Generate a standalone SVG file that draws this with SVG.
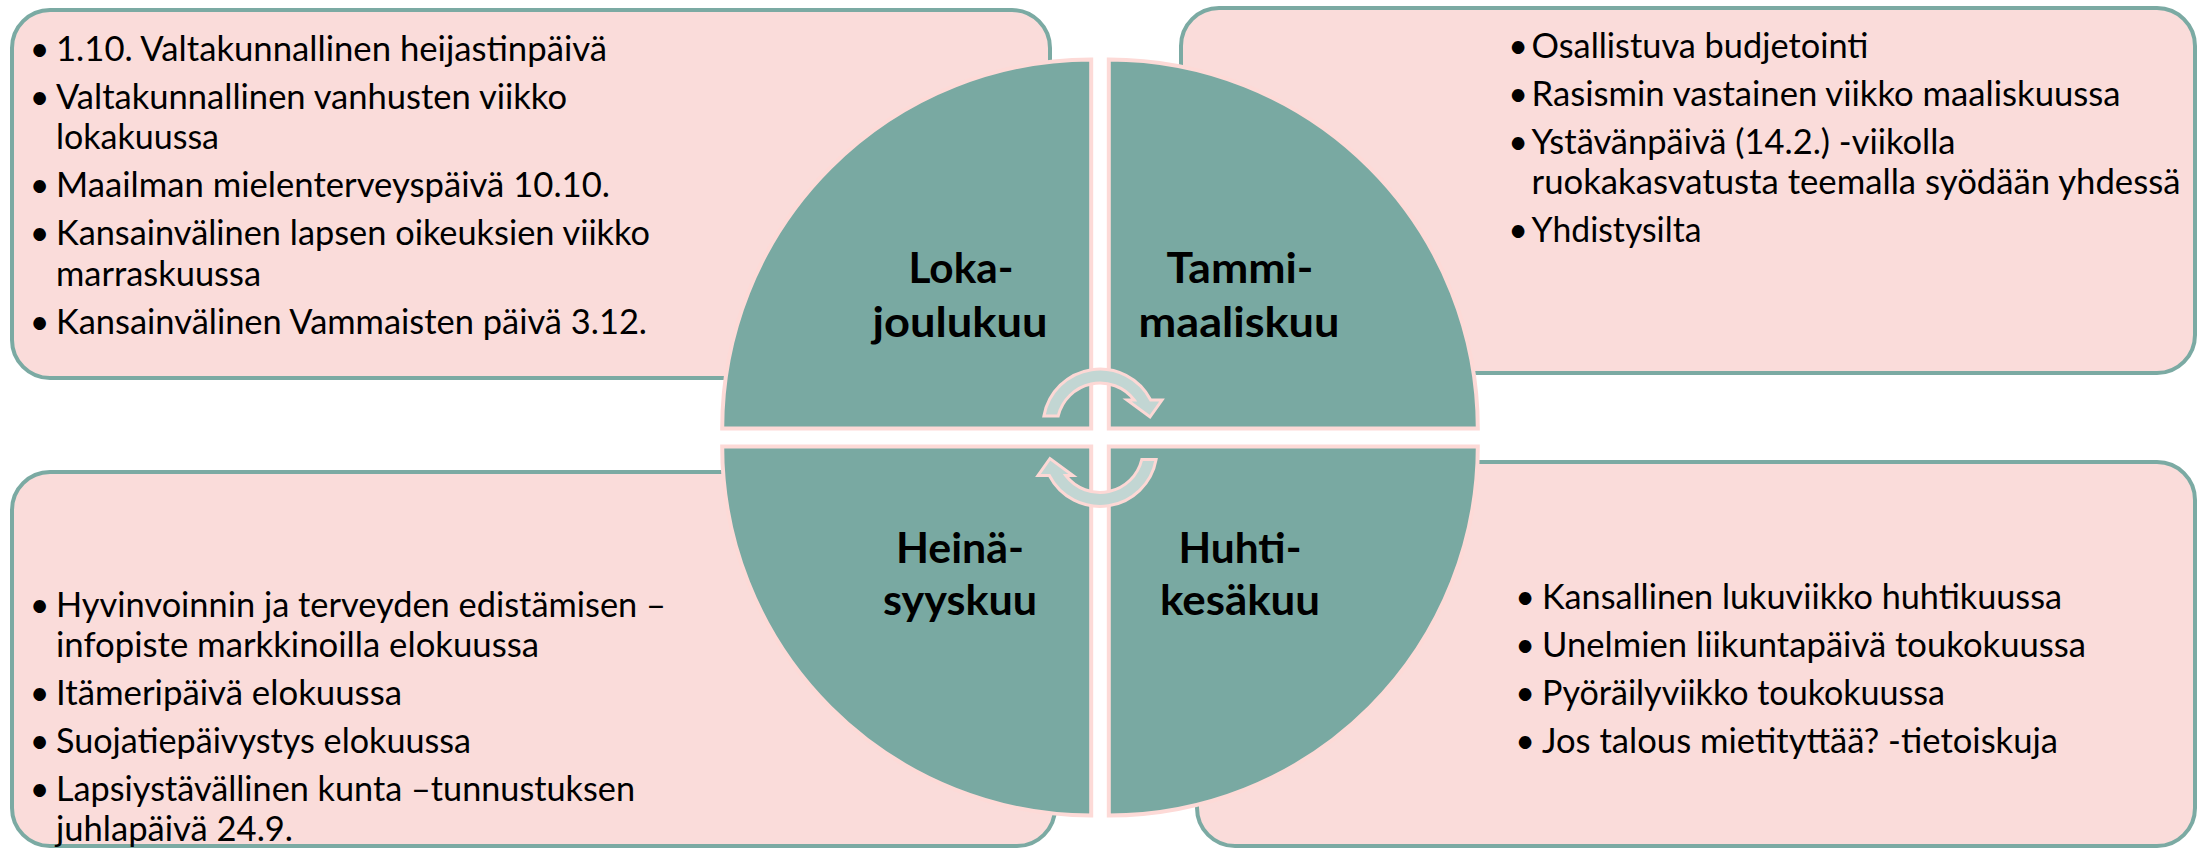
<svg xmlns="http://www.w3.org/2000/svg" width="2199" height="850" viewBox="0 0 2199 850">
<style>
.box{fill:#FADCDA;stroke:#7BAAA3;stroke-width:4}
.quad{fill:#79A9A2;stroke:#FDDAD7;stroke-width:4}
.arrow{fill:#C2D6D3;stroke:#FDD8D5;stroke-width:3;stroke-linejoin:miter}
.t{font-family:Lato,"Open Sans","Liberation Sans",sans-serif;font-size:34px;fill:#000}
.b{font-family:Lato,"Open Sans","Liberation Sans",sans-serif;font-size:34px;fill:#000;text-anchor:middle}
.lbl{font-family:Lato,"Open Sans","Liberation Sans",sans-serif;font-size:42px;font-weight:700;fill:#000;text-anchor:middle}
</style>
<rect width="2199" height="850" fill="#FFFFFF"/>

<g id="box-oct-dec">
<rect class="box" x="12" y="10" width="1038" height="368" rx="38"/>
<text class="b" x="39.5" y="60.5">•</text><text class="t" x="56" y="60.5" textLength="551" lengthAdjust="spacingAndGlyphs">1.10. Valtakunnallinen heijastinpäivä</text>
<text class="b" x="39.5" y="108.5">•</text><text class="t" x="56" y="108.5" textLength="511" lengthAdjust="spacingAndGlyphs">Valtakunnallinen vanhusten viikko</text>
<text class="t" x="56" y="149" textLength="163" lengthAdjust="spacingAndGlyphs">lokakuussa</text>
<text class="b" x="39.5" y="197">•</text><text class="t" x="56" y="197" textLength="554" lengthAdjust="spacingAndGlyphs">Maailman mielenterveyspäivä 10.10.</text>
<text class="b" x="39.5" y="245">•</text><text class="t" x="56" y="245" textLength="594" lengthAdjust="spacingAndGlyphs">Kansainvälinen lapsen oikeuksien viikko</text>
<text class="t" x="56" y="285.5" textLength="205" lengthAdjust="spacingAndGlyphs">marraskuussa</text>
<text class="b" x="39.5" y="333.5">•</text><text class="t" x="56" y="333.5" textLength="591" lengthAdjust="spacingAndGlyphs">Kansainvälinen Vammaisten päivä 3.12.</text>
</g>

<g id="box-jan-mar">
<rect class="box" x="1181" y="8" width="1014" height="365" rx="38"/>
<text class="b" x="1518" y="58">•</text><text class="t" x="1531.5" y="58" textLength="337" lengthAdjust="spacingAndGlyphs">Osallistuva budjetointi</text>
<text class="b" x="1518" y="106">•</text><text class="t" x="1531.5" y="106" textLength="589" lengthAdjust="spacingAndGlyphs">Rasismin vastainen viikko maaliskuussa</text>
<text class="b" x="1518" y="154">•</text><text class="t" x="1531.5" y="154" textLength="424" lengthAdjust="spacingAndGlyphs">Ystävänpäivä (14.2.) -viikolla</text>
<text class="t" x="1531.5" y="194" textLength="649" lengthAdjust="spacingAndGlyphs">ruokakasvatusta teemalla syödään yhdessä</text>
<text class="b" x="1518" y="242">•</text><text class="t" x="1531.5" y="242" textLength="170" lengthAdjust="spacingAndGlyphs">Yhdistysilta</text>
</g>

<g id="box-jul-sep">
<rect class="box" x="12" y="472" width="1043" height="374" rx="38"/>
<text class="b" x="39.5" y="617">•</text><text class="t" x="56" y="617" textLength="610" lengthAdjust="spacingAndGlyphs">Hyvinvoinnin ja terveyden edistämisen –</text>
<text class="t" x="56" y="657" textLength="483" lengthAdjust="spacingAndGlyphs">infopiste markkinoilla elokuussa</text>
<text class="b" x="39.5" y="705">•</text><text class="t" x="56" y="705" textLength="346" lengthAdjust="spacingAndGlyphs">Itämeripäivä elokuussa</text>
<text class="b" x="39.5" y="753">•</text><text class="t" x="56" y="753" textLength="415" lengthAdjust="spacingAndGlyphs">Suojatiepäivystys elokuussa</text>
<text class="b" x="39.5" y="801">•</text><text class="t" x="56" y="801" textLength="579" lengthAdjust="spacingAndGlyphs">Lapsiystävällinen kunta –tunnustuksen</text>
<text class="t" x="56" y="841" textLength="237" lengthAdjust="spacingAndGlyphs">juhlapäivä 24.9.</text>
</g>

<g id="box-apr-jun">
<rect class="box" x="1197" y="462" width="998" height="384" rx="38"/>
<text class="b" x="1525" y="609">•</text><text class="t" x="1542" y="609" textLength="520" lengthAdjust="spacingAndGlyphs">Kansallinen lukuviikko huhtikuussa</text>
<text class="b" x="1525" y="657">•</text><text class="t" x="1542" y="657" textLength="544" lengthAdjust="spacingAndGlyphs">Unelmien liikuntapäivä toukokuussa</text>
<text class="b" x="1525" y="705">•</text><text class="t" x="1542" y="705" textLength="403" lengthAdjust="spacingAndGlyphs">Pyöräilyviikko toukokuussa</text>
<text class="b" x="1525" y="753">•</text><text class="t" x="1542" y="753" textLength="516" lengthAdjust="spacingAndGlyphs">Jos talous mietityttää? -tietoiskuja</text>
</g>

<g id="quad-oct-dec">
<path class="quad" d="M1091.2 428.5 L722.2 428.5 A369 369 0 0 1 1091.2 59.5 Z"/>
<text class="lbl" x="961" y="283" textLength="105" lengthAdjust="spacingAndGlyphs">Loka-</text>
<text class="lbl" x="960" y="337" textLength="175" lengthAdjust="spacingAndGlyphs">joulukuu</text>
</g>

<g id="quad-jan-mar">
<path class="quad" d="M1108.8 428.5 L1108.8 59.5 A369 369 0 0 1 1477.8 428.5 Z"/>
<text class="lbl" x="1240" y="283" textLength="147" lengthAdjust="spacingAndGlyphs">Tammi-</text>
<text class="lbl" x="1239" y="337" textLength="201" lengthAdjust="spacingAndGlyphs">maaliskuu</text>
</g>

<g id="quad-jul-sep">
<path class="quad" d="M1091.2 446.5 L1091.2 815.5 A369 369 0 0 1 722.2 446.5 Z"/>
<text class="lbl" x="960" y="563" textLength="128" lengthAdjust="spacingAndGlyphs">Heinä-</text>
<text class="lbl" x="960" y="615" textLength="154" lengthAdjust="spacingAndGlyphs">syyskuu</text>
</g>

<g id="quad-apr-jun">
<path class="quad" d="M1108.8 446.5 L1477.8 446.5 A369 369 0 0 1 1108.8 815.5 Z"/>
<text class="lbl" x="1240" y="563" textLength="123" lengthAdjust="spacingAndGlyphs">Huhti-</text>
<text class="lbl" x="1240" y="615" textLength="160" lengthAdjust="spacingAndGlyphs">kesäkuu</text>
</g>

<g id="connectors">
<path id="arrow-top" class="arrow" d="M1043.9 416 A57 57 0 0 1 1150.7 400 L1162 400 L1150 417 L1127 400 L1134.2 400 A43 43 0 0 0 1058.2 416 Z"/>
<path id="arrow-bottom" class="arrow" transform="rotate(180 1100 437.75)" d="M1043.9 416 A57 57 0 0 1 1150.7 400 L1162 400 L1150 417 L1127 400 L1134.2 400 A43 43 0 0 0 1058.2 416 Z"/>
</g>
</svg>
